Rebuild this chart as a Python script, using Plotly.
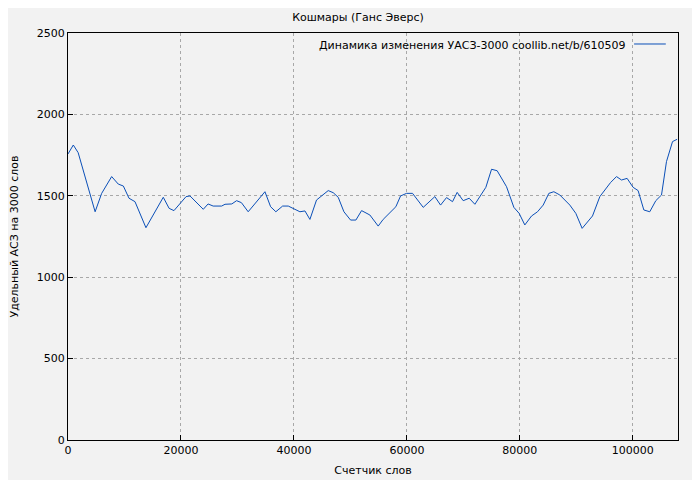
import plotly.graph_objects as go

# позиции (слова) и удельный АСЗ на 3000 слов
words = [0, 940, 1800, 4800, 5960, 7730, 8900, 9800, 10800, 11860, 13800, 16870, 17900,
         18760, 20900, 21600, 23950, 24800, 25700, 27200, 27800, 29000, 29850, 30700,
         31900, 34870, 35870, 36800, 38000, 39000, 41060, 41950, 42830, 44000, 46070,
         46960, 47840, 48850, 50030, 50970, 51980, 53450, 54920, 55800, 58050, 58880,
         59940, 61000, 62890, 64950, 65960, 67020, 68080, 68900, 69970, 71030, 72040,
         73980, 74990, 75980, 77640, 78940, 79880, 80880, 82070, 83130, 84130, 85130,
         86020, 87080, 88850, 89910, 91030, 92860, 94160, 96050, 97110, 98000, 98990,
         100050, 100940, 101950, 103000, 104070, 105080, 105960, 107030, 107840]
uasz = [1757, 1812, 1765, 1402, 1515, 1618, 1572, 1560, 1485, 1464, 1304, 1491, 1423,
        1409, 1495, 1499, 1417, 1450, 1437, 1437, 1448, 1450, 1470, 1458,
        1402, 1525, 1433, 1402, 1437, 1437, 1402, 1407, 1355, 1474, 1532,
        1519, 1491, 1402, 1351, 1351, 1409, 1382, 1314, 1355, 1433, 1499,
        1515, 1515, 1429, 1495, 1443, 1489, 1464, 1521, 1470, 1485, 1448,
        1552, 1663, 1654, 1556, 1429, 1392, 1321, 1376, 1402, 1443, 1515,
        1525, 1505, 1443, 1392, 1300, 1376, 1495, 1581, 1618, 1597, 1607,
        1552, 1532, 1413, 1402, 1470, 1505, 1710, 1833, 1847]
legend_text = "Динамика изменения УАСЗ-3000 coollib.net/b/610509"
line_color = "#0a4fb8"

fig = go.Figure(go.Scatter(x=words, y=uasz, mode="lines",
                           line=dict(color=line_color, width=1), showlegend=False))

# легенда в стиле gnuplot: текст слева, образец линии справа
fig.add_annotation(xref="paper", yref="paper", x=0.918, y=0.99, xanchor="right", yanchor="top",
                   text=legend_text, showarrow=False, font=dict(size=11))
fig.add_shape(type="line", xref="paper", yref="paper", x0=0.928, x1=0.98, y0=0.973, y1=0.973,
              line=dict(color=line_color, width=1))

axis = dict(showline=True, linecolor="black", mirror=True, ticks="inside", ticklen=5,
            tickcolor="black", showgrid=True, gridcolor="#a8a8a8", griddash="dot",
            zeroline=False, tickfont=dict(size=11, color="black"), automargin=False)
fig.update_layout(
    width=700, height=480,
    paper_bgcolor="#f2f2f2", plot_bgcolor="#f2f2f2",
    font=dict(family="DejaVu Sans", size=11, color="black"),
    title=dict(text="Кошмары (Ганс Эверс)", x=0.5, xanchor="center", y=0.99, yanchor="top",
               font=dict(size=11)),
    margin=dict(l=60, r=30, t=25, b=48),
    xaxis=dict(axis, range=[0, 108000], dtick=20000, tickformat="d",
               title=dict(text="Счетчик слов", standoff=10, font=dict(size=11))),
    yaxis=dict(axis, range=[0, 2500], dtick=500,
               title=dict(text="Удельный АСЗ на 3000 слов", standoff=20, font=dict(size=11))),
)
fig.write_html("out.html")
